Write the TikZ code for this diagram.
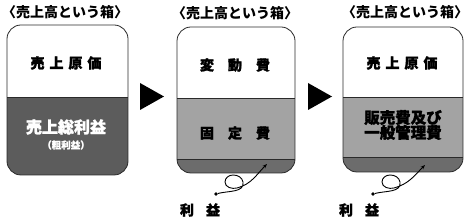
\documentclass[tikz,border=0pt]{standalone}
\usepackage{fontspec}
\setmainfont{Noto Sans CJK JP}
\newfontfamily\heavyjp{Noto Sans CJK JP}[FakeBold=1.6]
\usetikzlibrary{arrows.meta, positioning}
\definecolor{bxdark}{HTML}{5C5C5C}
\definecolor{bxmid}{HTML}{A3A3A3}
\definecolor{bxband}{HTML}{6C6C6C}
\definecolor{bxline}{HTML}{2A2A2A}
\tikzset{
  ttl/.style={font=\fontsize{14}{16}\selectfont\bfseries, inner sep=0pt},
  lbl/.style={font=\heavyjp\fontsize{14}{16}\selectfont\bfseries, inner sep=0pt, align=center},
  wlbl/.style={lbl, text=white},
  outline/.style={draw=bxline, line width=0.8pt, rounded corners=14pt},
  divline/.style={draw=bxline, line width=0.6pt},
  dot/.style={circle, fill=black, inner sep=0pt, minimum size=3.6pt},
  curl/.style={-{Stealth[length=4.5pt,width=3.5pt]}, line width=0.9pt},
}
\newcommand{\gap}[1]{\hspace{#1}}

\begin{document}
\begin{tikzpicture}[x=1pt, y=1pt]
  \useasboundingbox (0,0) rectangle (470,224);

  %% Box 1
  \node[ttl] (t1) at (65,212) {〈売上高という箱〉};
  \begin{scope}
    \clip[rounded corners=14pt] (7,49) rectangle (128,199);
    \fill[bxdark] (7,49) rectangle (128,127);
  \end{scope}
  \draw[outline] (7,49) rectangle (128,199);
  \draw[divline] (7,127) -- (128,127);
  \node[lbl] (c1) at (66,161) {売\gap{5pt}上\gap{5pt}原\gap{5pt}価};
  \node[wlbl, font=\heavyjp\fontsize{16}{18}\selectfont\bfseries] (g1) at (66,97) {売上総利益};
  \node[wlbl, font=\heavyjp\fontsize{9.5}{11}\selectfont\bfseries] (g2) at (66,79) {（粗利益）};

  %% Arrow 1
  \fill (140,141) -- (164,127.5) -- (140,114) -- cycle;

  %% Box 2
  \node[ttl] (t2) at (235,211) {〈売上高という箱〉};
  \begin{scope}
    \clip[rounded corners=14pt] (177,51) rectangle (295,197);
    \fill[bxmid] (177,51) rectangle (295,126);
    \fill[bxband] (177,51) rectangle (295,65);
  \end{scope}
  \draw[outline] (177,51) rectangle (295,197);
  \draw[divline] (177,126) -- (295,126);
  \draw[divline] (177,65) -- (295,65);
  \node[lbl] (v2) at (235,159) {変\gap{14pt}動\gap{14pt}費};
  \node[lbl] (f2) at (235,91) {固\gap{14pt}定\gap{14pt}費};

  %% profit 2
  \node[dot] (d2) at (216,30) {};
  \coordinate (e2) at (267,60);
  \draw[curl] (d2) to[out=15,in=-80] ++(27,12) to[out=100,in=0] ++(-10,7)
    to[out=180,in=90] ++(-8,-7) to[out=-90,in=195] ++(12,-6)
    to[out=15,in=225] (e2);
  \node[lbl] (p2) at (200,14) {利\gap{12pt}益};

  %% Arrow 2
  \fill (308,141) -- (332,127.5) -- (308,114) -- cycle;

  %% Box 3
  \node[ttl] (t3) at (405,212) {〈売上高という箱〉};
  \begin{scope}
    \clip[rounded corners=14pt] (343,52) rectangle (463,197);
    \fill[bxmid] (343,52) rectangle (463,127);
    \fill[bxband] (343,52) rectangle (463,67);
  \end{scope}
  \draw[outline] (343,52) rectangle (463,197);
  \draw[divline] (343,127) -- (463,127);
  \draw[divline] (343,67) -- (463,67);
  \node[lbl] (c3) at (402,161) {売\gap{5pt}上\gap{5pt}原\gap{5pt}価};
  \node[lbl, font=\heavyjp\fontsize{15.5}{15}\selectfont\bfseries] (s3) at (403,99)
    {販売費及び\\一般管理費};

  %% profit 3
  \node[dot] (d3) at (373,30) {};
  \coordinate (e3) at (425,59);
  \draw[curl] (d3) to[out=15,in=-80] ++(27,12) to[out=100,in=0] ++(-10,7)
    to[out=180,in=90] ++(-8,-7) to[out=-90,in=195] ++(12,-6)
    to[out=15,in=225] (e3);
  \node[lbl] (p3) at (359,14) {利\gap{12pt}益};
\end{tikzpicture}
\end{document}
